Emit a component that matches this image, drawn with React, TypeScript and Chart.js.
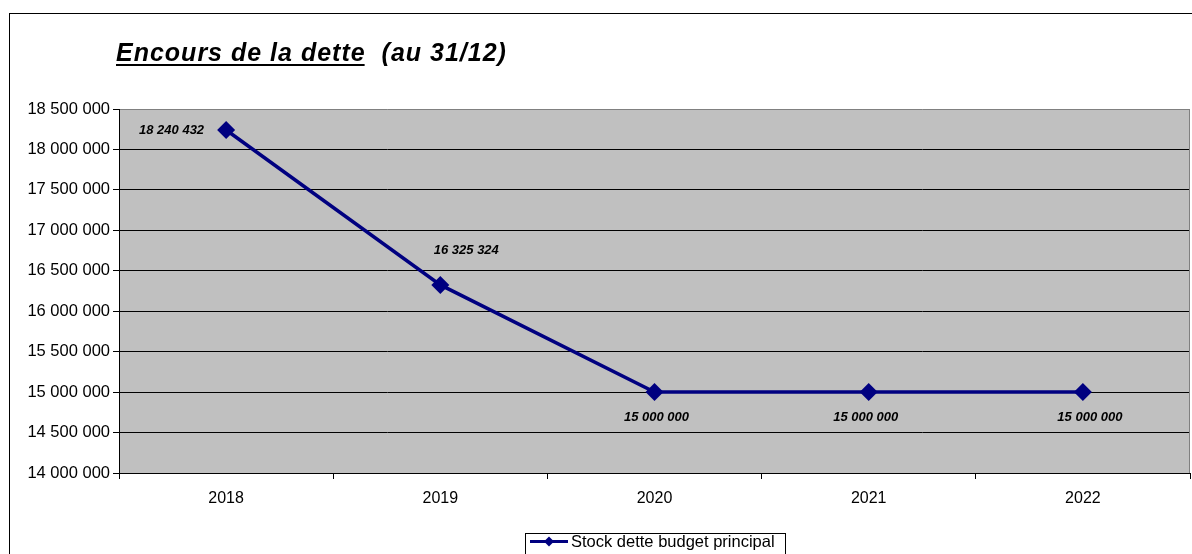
import React, { useEffect, useRef } from "react";
import { Chart, registerables } from "chart.js";

Chart.register(...registerables);

const categories = ["2018", "2019", "2020", "2021", "2022"];
const stockDette = [18240432, 16325324, 15000000, 15000000, 15000000];
const seriesLabel = "Stock dette budget principal";
const titleMain = "Encours de la dette";
const titleSub = "(au 31/12)";
const yMin = 14000000;
const yMax = 18500000;
const yStep = 500000;

// label offsets relative to each point (styling only)
const labelOffsets = [
  { dx: -22, dy: 0, align: "right" },
  { dx: 26, dy: -34, align: "center" },
  { dx: 2, dy: 25, align: "center" },
  { dx: -3, dy: 25, align: "center" },
  { dx: 7, dy: 25, align: "center" },
];

const FONT = "'Liberation Sans', Arial, sans-serif";
const NAVY = "#000080";

const fmt = (n: number) => String(Math.round(n)).replace(/\B(?=(\d{3})+(?!\d))/g, " ");

const decorPlugin = {
  id: "decor",
  beforeDraw(chart: any) {
    const { ctx, chartArea } = chart;
    ctx.save();
    ctx.fillStyle = "#ffffff";
    ctx.fillRect(0, 0, chart.width, chart.height);
    ctx.fillStyle = "#C0C0C0";
    ctx.fillRect(chartArea.left, chartArea.top, chartArea.right - chartArea.left, chartArea.bottom - chartArea.top);
    // outer frame (left and top edges visible)
    ctx.fillStyle = "#000";
    ctx.fillRect(9, 13, 1, chart.height - 13);
    ctx.fillRect(9, 13, chart.width - 9, 1);
    // title
    ctx.fillStyle = "#000";
    ctx.textBaseline = "alphabetic";
    ctx.textAlign = "left";
    ctx.font = `italic bold 25px ${FONT}`;
    (ctx as any).letterSpacing = "1px";
    const tx = 116;
    const ty = 61;
    ctx.fillText(titleMain, tx, ty);
    const w = ctx.measureText(titleMain).width;
    ctx.fillRect(tx, 64, w - 1, 2);
    ctx.fillText(titleSub, tx + w + 16, ty);
    (ctx as any).letterSpacing = "0px";
    ctx.restore();
  },
  beforeDatasetsDraw(chart: any) {
    const { ctx, chartArea } = chart;
    ctx.save();
    ctx.strokeStyle = "#808080";
    ctx.lineWidth = 1;
    ctx.beginPath();
    ctx.moveTo(chartArea.right - 0.5, chartArea.top);
    ctx.lineTo(chartArea.right - 0.5, chartArea.bottom);
    ctx.stroke();
    ctx.restore();
  },
  afterDraw(chart: any) {
    const { ctx } = chart;
    const meta = chart.getDatasetMeta(0);
    const data = chart.data.datasets[0].data as number[];
    ctx.save();
    ctx.font = `italic bold 13px ${FONT}`;
    ctx.fillStyle = "#000";
    ctx.textBaseline = "middle";
    meta.data.forEach((pt: any, i: number) => {
      const o = labelOffsets[i];
      ctx.textAlign = o.align;
      ctx.fillText(fmt(data[i]), pt.x + o.dx, pt.y + o.dy);
    });
    // legend
    const bx = 525.5, by = 533.5, bw = 260, bh = 24;
    ctx.strokeStyle = "#000";
    ctx.lineWidth = 1;
    ctx.strokeRect(bx, by, bw, bh);
    ctx.strokeStyle = NAVY;
    ctx.lineWidth = 3;
    ctx.beginPath();
    ctx.moveTo(530, 541.5);
    ctx.lineTo(568, 541.5);
    ctx.stroke();
    ctx.fillStyle = NAVY;
    ctx.beginPath();
    const cx = 549, cy = 541.5, r = 5;
    ctx.moveTo(cx, cy - r);
    ctx.lineTo(cx + r, cy);
    ctx.lineTo(cx, cy + r);
    ctx.lineTo(cx - r, cy);
    ctx.closePath();
    ctx.fill();
    ctx.fillStyle = "#000";
    ctx.font = `16.5px ${FONT}`;
    ctx.textAlign = "left";
    ctx.textBaseline = "alphabetic";
    ctx.fillText(chart.data.datasets[0].label, 571, 547);
    ctx.restore();
  },
};

export default function App() {
  const ref = useRef<HTMLCanvasElement>(null);
  useEffect(() => {
    document.body.style.margin = "0";
    document.body.style.overflow = "hidden";
    document.documentElement.style.overflow = "hidden";
    if (!ref.current) return;
    const chart = new Chart(ref.current, {
      type: "line",
      data: {
        labels: categories,
        datasets: [
          {
            label: seriesLabel,
            data: stockDette,
            borderColor: NAVY,
            backgroundColor: NAVY,
            borderWidth: 3.5,
            pointStyle: "rectRot",
            pointRadius: 9,
            pointBorderWidth: 0,
            pointBackgroundColor: NAVY,
            tension: 0,
            clip: false as any,
          },
        ],
      },
      options: {
        animation: false,
        responsive: false,
        devicePixelRatio: 1,
        layout: { autoPadding: false, padding: { top: 109, right: 2, left: 0, bottom: 0 } },
        plugins: {
          legend: { display: false },
          title: { display: false },
          tooltip: { enabled: false },
        },
        scales: {
          x: {
            offset: true,
            grid: {
              offset: true,
              drawOnChartArea: false,
              drawTicks: true,
              tickLength: 6,
              tickColor: "#000",
            },
            border: { display: true, color: "#000", width: 1 },
            ticks: {
              font: { family: FONT, size: 16 },
              color: "#000",
              padding: 10,
              maxRotation: 0,
              autoSkip: false,
            },
            afterFit: (s: any) => {
              s.height = 81;
              s.paddingLeft = 0;
              s.paddingRight = 0;
            },
          },
          y: {
            min: yMin,
            max: yMax,
            ticks: {
              stepSize: yStep,
              callback: (v: any) => fmt(Number(v)),
              font: { family: FONT, size: 16.5 },
              color: "#000",
              padding: 3,
            },
            grid: {
              color: (c: any) => (c.tick && c.tick.value === yMax ? "#808080" : "#000"),
              tickColor: "#000",
              tickLength: 6,
              lineWidth: 1,
            },
            border: { display: true, color: "#000", width: 1 },
            afterFit: (s: any) => {
              s.width = 119;
              s.paddingTop = 0;
              s.paddingBottom = 0;
            },
          },
        },
      },
      plugins: [decorPlugin],
    });
    return () => chart.destroy();
  }, []);
  return (
    <div style={{ position: "fixed", left: 0, top: 0, width: 1192, height: 554, overflow: "hidden" }}>
      <canvas ref={ref} width={1192} height={554} style={{ display: "block", width: 1192, height: 554 }} />
    </div>
  );
}
